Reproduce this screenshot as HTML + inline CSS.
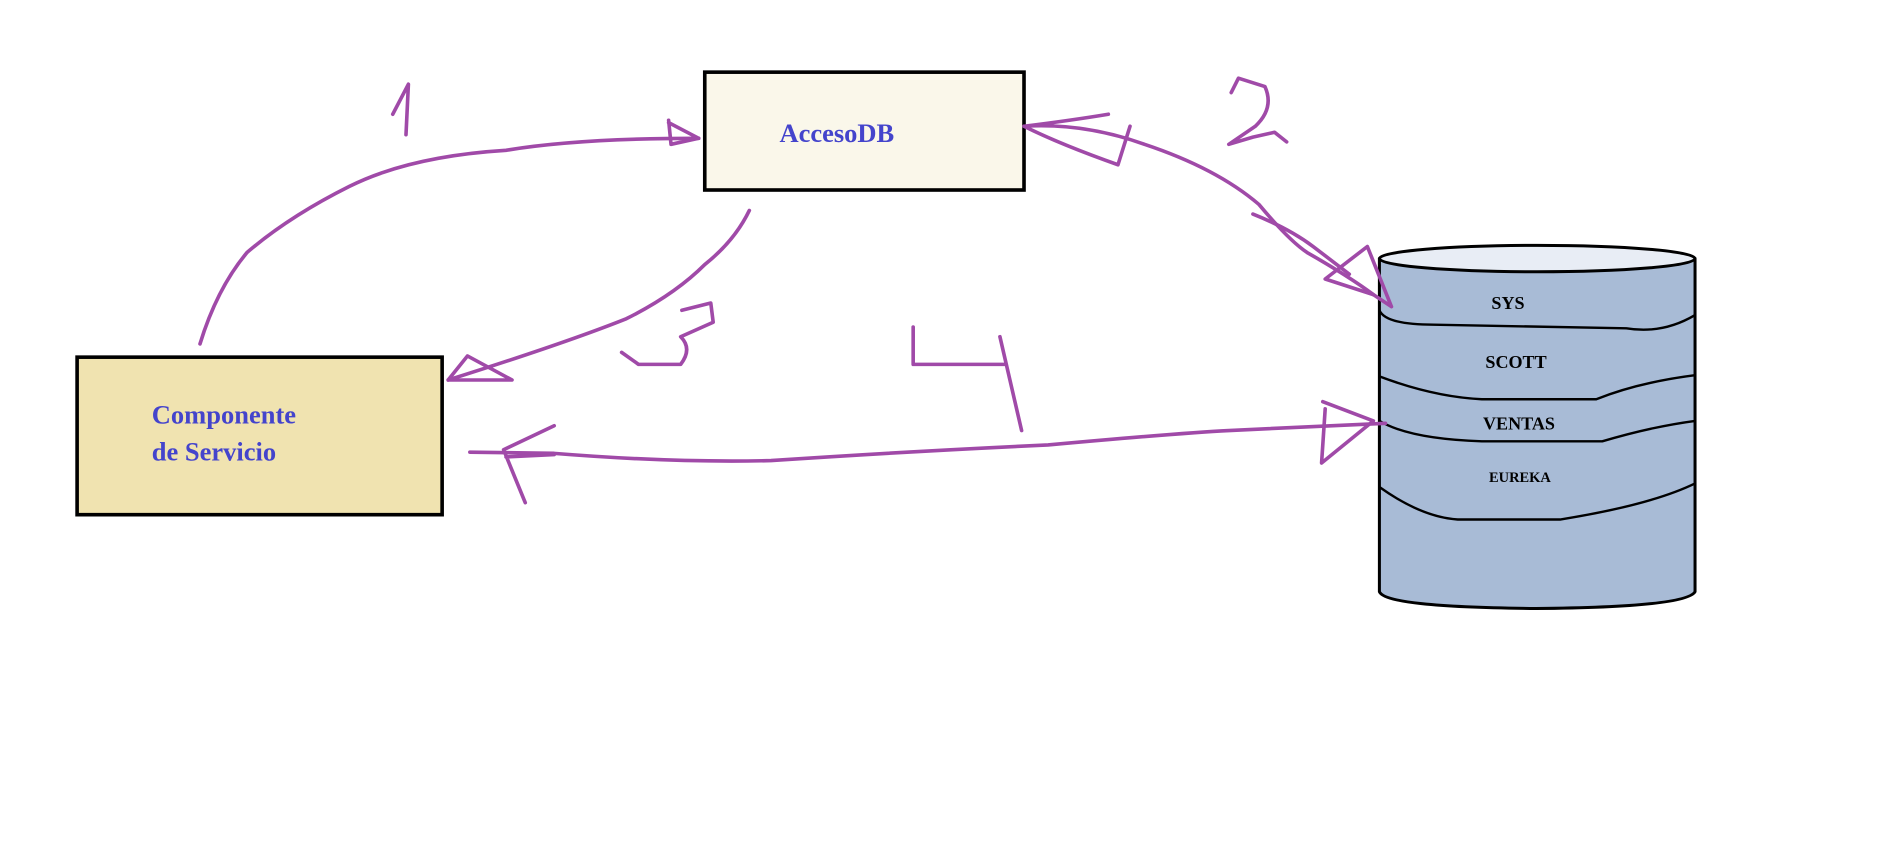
<!DOCTYPE html>
<html><head><meta charset="utf-8"><style>
html,body{margin:0;padding:0;background:#fff;}
svg{display:block;}
text{font-family:"Liberation Serif",serif;font-weight:bold;}
</style></head><body>
<svg width="1889" height="849" viewBox="0 0 1568 706" preserveAspectRatio="none" xmlns="http://www.w3.org/2000/svg">
<rect width="1568" height="706" fill="#fff"/>
<rect x="585" y="60" width="265" height="98" fill="#faf7ea" stroke="#000" stroke-width="3"/>
<text x="647" y="118" font-size="22" fill="#4444cc">AccesoDB</text>
<rect x="64" y="297" width="303" height="131" fill="#f0e3b0" stroke="#000" stroke-width="3"/>
<text x="126" y="352" font-size="22" fill="#4444cc">Componente</text>
<text x="126" y="383" font-size="22" fill="#4444cc">de Servicio</text>
<!-- cylinder -->
<path d="M1145,216 L1145,492 Q1150,505 1275,506 Q1400,505 1407,492 L1407,216 Z" fill="#a8bbd6" stroke="#000" stroke-width="2.5"/>
<ellipse cx="1276" cy="215" rx="131" ry="11" fill="#e8edf5" stroke="#000" stroke-width="2.5"/>
<g fill="none" stroke="#000" stroke-width="2">
<path d="M1145,258 Q1150,270 1190,270 L1350,273 Q1380,278 1407,262"/>
<path d="M1145,313 Q1190,330 1230,332 L1325,332 Q1360,318 1407,312"/>
<path d="M1145,350 Q1170,365 1230,367 L1330,367 Q1370,355 1407,350"/>
<path d="M1145,405 Q1180,430 1210,432 L1295,432 Q1370,420 1407,402"/>
</g>
<text x="1238" y="257" font-size="15" fill="#000">SYS</text>
<text x="1233" y="306" font-size="15" fill="#000">SCOTT</text>
<text x="1231" y="357" font-size="15" fill="#000">VENTAS</text>
<text x="1236" y="401" font-size="12" fill="#000">EUREKA</text>
<!-- purple strokes -->
<g fill="none" stroke="#a04aa8" stroke-width="3" stroke-linecap="round" stroke-linejoin="round">
<path d="M166,286 Q180,240 205,210 Q240,180 290,155 Q340,130 420,125 Q480,115 580,115"/>
<path d="M555,100 L557,120 L580,115 L555,102"/>
<path d="M326,95 L339,70 L337,112"/>
<path d="M850,105 Q890,100 920,95 M850,105 Q880,120 928,137 L938,105 M850,105 Q900,102 950,120 Q1010,140 1045,170 Q1070,200 1085,210 Q1120,230 1140,245"/>
<path d="M1040,178 Q1070,190 1090,205 L1120,228 M1140,245 L1100,232 L1135,205 L1155,255 Z"/>
<path d="M1022,77 L1028,65 L1050,72 Q1058,90 1042,105 L1020,120 L1040,114 L1058,110 L1068,118"/>
<path d="M622,175 Q610,200 585,220 Q560,245 520,265 Q470,285 372,316"/>
<path d="M372,316 L388,296 L425,316 Z"/>
<path d="M566,258 L590,252 L592,268 L565,280 Q575,290 565,303 L530,303 L516,293"/>
<path d="M758,272 L758,303 L835,303 M830,280 L848,358"/>
<path d="M390,376 L460,377 Q560,385 640,383 Q760,375 870,370 Q980,360 1020,358 Q1090,355 1150,352"/>
<path d="M1098,334 L1140,350 L1097,385 L1100,340"/>
<path d="M460,354 L418,374 L436,418 M420,380 L460,378"/>
</g>
</svg>
</body></html>
